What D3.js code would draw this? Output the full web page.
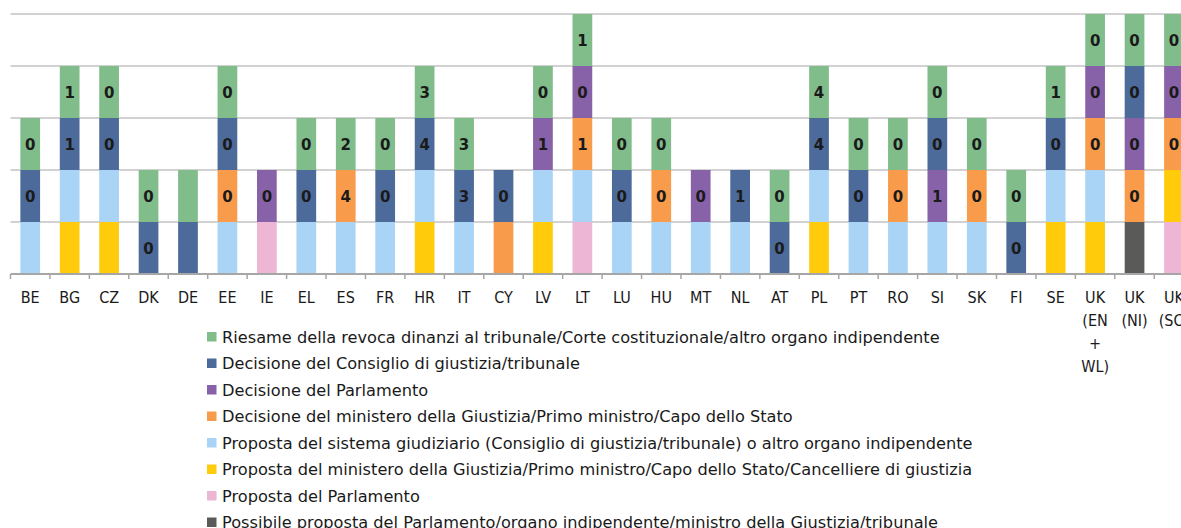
<!DOCTYPE html>
<html>
<head>
<meta charset="utf-8">
<script src="https://cdn.jsdelivr.net/npm/d3@7"></script>
<style>
  body { margin: 0; background: #fff; }
  svg { display: block; }
  .tick-lbl { font-family: "DejaVu Sans Condensed", "Liberation Sans Narrow", "Liberation Sans", sans-serif; fill: #1a1a1a; }
  .legend text { font-family: "DejaVu Sans", "Liberation Sans", sans-serif; fill: #1a1a1a; }
  .seg-lbl { font-family: "DejaVu Sans", Verdana, sans-serif; font-weight: bold; fill: #1a1a1a; }
</style>
</head>
<body>
<svg width="1181" height="528"></svg>
<script>
// countries on the x axis
var countries = ['BE','BG','CZ','DK','DE','EE','IE','EL','ES','FR','HR','IT','CY','LV','LT','LU','HU','MT','NL','AT','PL','PT','RO','SI','SK','FI','SE','UK (EN + WL)','UK (NI)','UK (SC)'];

// series, in legend order
var seriesNames = [
  'Riesame della revoca dinanzi al tribunale/Corte costituzionale/altro organo indipendente',
  'Decisione del Consiglio di giustizia/tribunale',
  'Decisione del Parlamento',
  'Decisione del ministero della Giustizia/Primo ministro/Capo dello Stato',
  'Proposta del sistema giudiziario (Consiglio di giustizia/tribunale) o altro organo indipendente',
  'Proposta del ministero della Giustizia/Primo ministro/Capo dello Stato/Cancelliere di giustizia',
  'Proposta del Parlamento',
  'Possibile proposta del Parlamento/organo indipendente/ministro della Giustizia/tribunale'
];
var colors = ['#80bd8b','#4d6b9a','#8862a8','#f89c4c','#a9d4f6','#ffcb0b','#ecb6d4','#5a5b58'];

// 1 = step present for that country
var riesame      = [1,1,1,1,1,1,0,1,1,1,1,1,0,1,1,1,1,0,0,1,1,1,1,1,1,1,1,1,1,1];
var decConsiglio = [1,1,1,1,1,1,0,1,0,1,1,1,1,0,0,1,0,0,1,1,1,1,0,1,0,1,1,0,1,0];
var decParl      = [0,0,0,0,0,0,1,0,0,0,0,0,0,1,1,0,0,1,0,0,0,0,0,1,0,0,0,1,1,1];
var decMin       = [0,0,0,0,0,1,0,0,1,0,0,0,1,0,1,0,1,0,0,0,0,0,1,0,1,0,0,1,1,1];
var propGiud     = [1,1,1,0,0,1,0,1,1,1,1,1,0,1,1,1,1,1,1,0,1,1,1,1,1,0,1,1,0,0];
var propMin      = [0,1,1,0,0,0,0,0,0,0,1,0,0,1,0,0,0,0,0,0,1,0,0,0,0,0,1,1,0,1];
var propParl     = [0,0,0,0,0,0,1,0,0,0,0,0,0,0,1,0,0,0,0,0,0,0,0,0,0,0,0,0,0,1];
var possibile    = [0,0,0,0,0,0,0,0,0,0,0,0,0,0,0,0,0,0,0,0,0,0,0,0,0,0,0,0,1,0];

// numbers written in the segments ('' = none)
var lblRiesame      = ['0','1','0','0','','0','','0','2','0','3','3','','0','1','0','0','','','0','4','0','0','0','0','0','1','0','0','0'];
var lblDecConsiglio = ['0','1','0','0','','0','','0','','0','4','3','0','','','0','','','1','0','4','0','','0','','0','0','','0',''];
var lblDecParl      = ['','','','','','','0','','','','','','','1','0','','','0','','','','','','1','','','','0','0','0'];
var lblDecMin       = ['','','','','','0','','','4','','','','','','1','','0','','','','','','0','','0','','','0','0','0'];

var values = [riesame, decConsiglio, decParl, decMin, propGiud, propMin, propParl, possibile];
var emptyLbl = countries.map(function () { return ''; });
var labels = [lblRiesame, lblDecConsiglio, lblDecParl, lblDecMin, emptyLbl, emptyLbl, emptyLbl, emptyLbl];

var rows = countries.map(function (c, i) {
  var r = {country: c};
  values.forEach(function (v, k) { r[k] = v[i]; });
  return r;
});
// stacked bottom-up in reverse legend order
var keys = d3.range(values.length).reverse();
var stacked = d3.stack().keys(keys)(rows);

var svg = d3.select('svg');
var x0 = 10.5, bandW = 39.44;
var x = d3.scaleBand().domain(countries).range([x0, x0 + bandW * countries.length]).paddingInner(0.5).paddingOuter(0.25);
var y = d3.scaleLinear().domain([0, 5]).range([274, 14]);

// gridlines
svg.append('g').selectAll('line').data([1,2,3,4,5]).enter().append('line')
  .attr('x1', x0).attr('x2', 1181)
  .attr('y1', function (d) { return y(d); }).attr('y2', function (d) { return y(d); })
  .attr('stroke', '#d2d2d2').attr('stroke-width', 2);

// bars
var layer = svg.append('g').selectAll('g').data(stacked).enter().append('g')
  .attr('fill', function (s) { return colors[s.key]; });
layer.selectAll('rect').data(function (s) { return s.map(function (d, i) { return {d: d, i: i, k: s.key}; }); })
  .enter().filter(function (p) { return p.d[1] > p.d[0]; }).append('rect')
  .attr('x', function (p) { return x(countries[p.i]); })
  .attr('width', x.bandwidth())
  .attr('y', function (p) { return y(p.d[1]); })
  .attr('height', function (p) { return y(p.d[0]) - y(p.d[1]); });

// segment labels
layer.selectAll('text').data(function (s) { return s.map(function (d, i) { return {d: d, i: i, k: s.key}; }); })
  .enter().filter(function (p) { return p.d[1] > p.d[0] && labels[p.k][p.i] !== ''; }).append('text')
  .attr('class', 'seg-lbl')
  .attr('x', function (p) { return x(countries[p.i]) + x.bandwidth() / 2; })
  .attr('y', function (p) { return (y(p.d[0]) + y(p.d[1])) / 2 + 6; })
  .attr('text-anchor', 'middle')
  .style('font-size', '15px')
  .text(function (p) { return labels[p.k][p.i]; });

// x axis
var axisY = 274;
svg.append('line').attr('x1', x0).attr('x2', 1181).attr('y1', axisY).attr('y2', axisY)
  .attr('stroke', '#a6a6a6').attr('stroke-width', 2);
svg.append('g').selectAll('line').data(d3.range(countries.length + 1)).enter().append('line')
  .attr('x1', function (i) { return x0 + i * bandW; }).attr('x2', function (i) { return x0 + i * bandW; })
  .attr('y1', axisY).attr('y2', axisY + 5)
  .attr('stroke', '#a6a6a6').attr('stroke-width', 1.5);

var tickLbl = svg.append('g').selectAll('text').data(countries).enter().append('text')
  .attr('class', 'tick-lbl')
  .attr('text-anchor', 'middle')
  .style('font-size', '16px')
  .attr('x', function (c) { return x(c) + x.bandwidth() / 2; })
  .attr('y', 303);
tickLbl.each(function (c) {
  var parts = c.split(' ');
  var t = d3.select(this);
  parts.forEach(function (p, j) {
    t.append('tspan').attr('x', t.attr('x')).attr('dy', j === 0 ? 0 : 23).text(p);
  });
});

// legend
var legend = svg.append('g').attr('class', 'legend');
seriesNames.forEach(function (name, k) {
  var ly = 337 + k * 26.5;
  legend.append('rect').attr('x', 207).attr('y', ly - 5).attr('width', 9.5).attr('height', 9.5).attr('fill', colors[k]);
  legend.append('text').attr('x', 222).attr('y', ly + 5.5).style('font-size', '16.2px').text(name);
});
</script>
</body>
</html>
